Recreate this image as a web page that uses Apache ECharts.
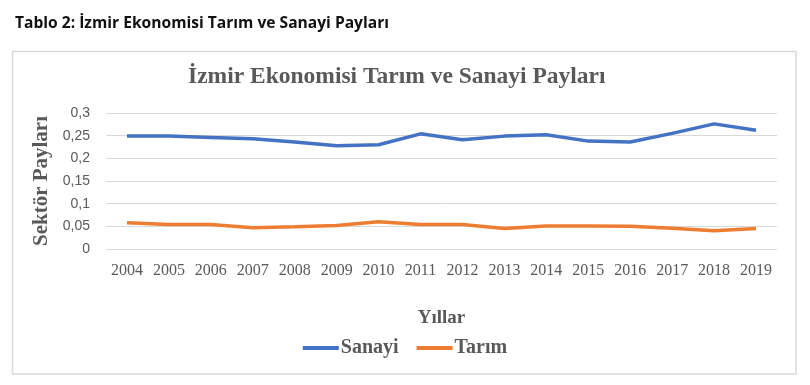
<!DOCTYPE html>
<html><head><meta charset="utf-8">
<script src="https://cdn.jsdelivr.net/npm/echarts@6/dist/echarts.min.js"></script>
<style>html,body{margin:0;padding:0;background:#fff}#c{width:810px;height:385px}</style>
</head><body><div id="c"></div>
<script>
const years = ['2004','2005','2006','2007','2008','2009','2010','2011','2012','2013','2014','2015','2016','2017','2018','2019'];
const sanayi = [0.249,0.249,0.246,0.243,0.236,0.228,0.230,0.254,0.241,0.249,0.252,0.238,0.236,0.255,0.276,0.262];
const tarim = [0.058,0.054,0.054,0.047,0.049,0.052,0.060,0.054,0.054,0.045,0.051,0.051,0.050,0.046,0.040,0.045];
const yTicks = [0,0.05,0.1,0.15,0.2,0.25,0.3];

const chart = echarts.init(document.getElementById('c'), null, {renderer:'canvas'});
chart.setOption({
  animation:false,
  title:[
    {text:'Tablo 2: İzmir Ekonomisi Tarım ve Sanayi Payları', left:10, top:11,
     textStyle:{fontFamily:'Open Sans', fontWeight:'bold', fontSize:15.6, color:'#111'}},
    {text:'İzmir Ekonomisi Tarım ve Sanayi Payları', left:183, top:60,
     textStyle:{fontFamily:'Liberation Serif', fontWeight:'bold', fontSize:23.5, color:'#595959'}}
  ],
  graphic:[{type:'rect', shape:{x:12.5,y:51.5,width:783.5,height:322.5},
    style:{fill:'none', stroke:'#d9d9d9', lineWidth:1.5}, silent:true}],
  legend:{bottom:22, left:'center', itemWidth:36, itemHeight:4, itemGap:18,
    icon:'rect',
    textStyle:{fontFamily:'Liberation Serif', fontWeight:'bold', fontSize:20, color:'#595959', padding:[0,0,0,-3]},
    data:['Sanayi','Tarım']},
  grid:{left:106, right:33, top:113, bottom:136, containLabel:false},
  xAxis:{type:'category', data:years, boundaryGap:true,
    axisLine:{show:false}, axisTick:{show:false},
    axisLabel:{fontFamily:'Liberation Serif', fontSize:16, color:'#595959', margin:14},
    name:'Yıllar', nameLocation:'middle', nameGap:60,
    nameTextStyle:{fontFamily:'Liberation Serif', fontWeight:'bold', fontSize:19, color:'#595959'}},
  yAxis:{type:'value', min:0, max:0.3, interval:0.05,
    axisLine:{show:false}, axisTick:{show:false},
    splitLine:{lineStyle:{color:'#d9d9d9', width:1}},
    axisLabel:{fontFamily:'Liberation Sans', fontSize:14, color:'#595959', margin:16,
      formatter:v=>{const t=yTicks.find(x=>Math.abs(x-v)<1e-9); return String(t!==undefined?t:v).replace('.',',');}},
    name:'Sektör Payları', nameLocation:'middle', nameGap:48,
    nameTextStyle:{fontFamily:'Liberation Serif', fontWeight:'bold', fontSize:21, color:'#595959'}},
  series:[
    {name:'Sanayi', type:'line', data:sanayi, symbol:'none', lineStyle:{color:'#4472C4', width:3.5}, itemStyle:{color:'#4472C4'}},
    {name:'Tarım', type:'line', data:tarim, symbol:'none', lineStyle:{color:'#ED7D31', width:3.5}, itemStyle:{color:'#ED7D31'}}
  ]
});
</script></body></html>
